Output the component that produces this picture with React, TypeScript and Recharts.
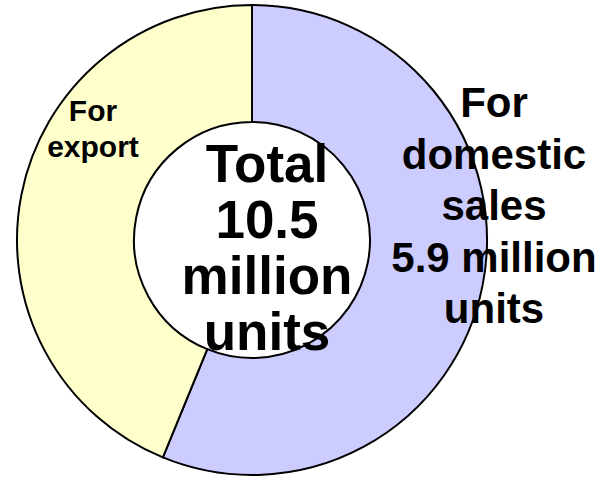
import { PieChart, Pie, Cell } from "recharts";

const categories = ["For domestic sales", "For export"];
const values = [5.9, 4.6];
const colors = ["#CCCCFF", "#FFFFCC"];
const domesticLines = ["For", "domestic", "sales", "5.9 million", "units"];
const exportLines = ["For", "export"];
const centerLines = ["Total", "10.5", "million", "units"];

const data = categories.map((name, i) => ({ name, value: values[i] }));

const font = "Arial, 'Liberation Sans', sans-serif";

function Lines({ x, y, lines, size, step }: { x: number; y: number; lines: string[]; size: number; step: number }) {
  return (
    <text x={x} y={y} textAnchor="middle" fontFamily={font} fontWeight="bold" fontSize={size} fill="#000">
      {lines.map((l, i) => (
        <tspan key={i} x={x} dy={i === 0 ? 0 : step}>
          {l}
        </tspan>
      ))}
    </text>
  );
}

function SliceLabel(props: any) {
  const { cx, cy, index } = props;
  if (index === 0) {
    return (
      <g>
        <Lines x={cx + 15} y={cy - 58} lines={centerLines} size={53} step={56} />
        <Lines x={cx + 242} y={cy - 123} lines={domesticLines} size={42} step={51.5} />
      </g>
    );
  }
  return <Lines x={cx - 159} y={cy - 119} lines={exportLines} size={30} step={36} />;
}

export default function App() {
  return (
    <div style={{ position: "absolute", left: 0, top: 0, background: "#fff" }}>
      <PieChart width={603} height={477} margin={{ top: 0, right: 0, bottom: 0, left: 0 }}>
        <Pie
          data={data}
          dataKey="value"
          nameKey="name"
          cx={252}
          cy={240}
          innerRadius={118}
          outerRadius={235}
          startAngle={90}
          endAngle={-270}
          stroke="#000"
          strokeWidth={2}
          label={SliceLabel}
          labelLine={false}
          isAnimationActive={false}
        >
          {data.map((d, i) => (
            <Cell key={d.name} fill={colors[i]} />
          ))}
        </Pie>
      </PieChart>
    </div>
  );
}
